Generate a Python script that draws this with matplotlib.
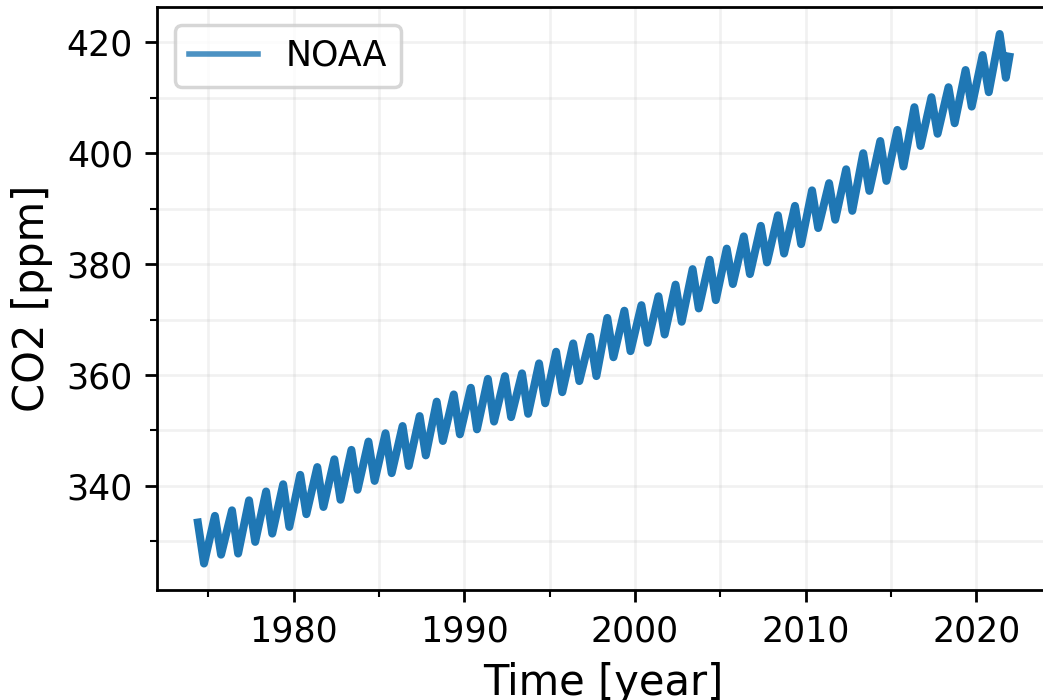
import numpy as np
import matplotlib.pyplot as plt
from matplotlib.ticker import MultipleLocator

# Mauna Loa CO2, one seasonal maximum (May) and minimum (late Sep) per year
years = np.arange(1974, 2022)
peak_ppm = [333.4, 334.6, 335.6, 337.4, 339.0, 340.3, 342.0, 343.4, 344.8, 346.5,
            348.0, 349.5, 350.8, 352.6, 355.2, 356.5, 357.7, 359.3, 359.8, 360.3,
            362.1, 364.2, 365.7, 366.9, 370.3, 371.6, 372.6, 374.2, 376.3, 379.1,
            380.8, 382.8, 385.0, 386.9, 388.8, 390.5, 393.3, 394.6, 397.1, 400.0,
            402.2, 404.2, 408.3, 410.1, 411.9, 415.0, 417.7, 421.5]
trough_ppm = [326.0, 327.6, 327.8, 329.9, 331.4, 332.6, 334.9, 336.2, 337.5, 339.3,
              340.9, 342.3, 343.6, 345.5, 348.1, 349.3, 350.2, 351.6, 352.4, 353.0,
              354.9, 356.9, 358.9, 359.8, 363.2, 364.3, 365.8, 367.3, 369.6, 372.0,
              373.5, 376.4, 378.2, 380.3, 381.9, 383.6, 386.5, 388.0, 389.6, 393.2,
              395.0, 397.6, 401.3, 403.5, 405.4, 408.4, 411.0, 413.6]
last_time = 2021.95
last_ppm = 417.4

# fraction of the year where the max / min fall
peak_frac = 0.38
trough_frac = 0.74

t = np.column_stack([years + peak_frac, years + trough_frac]).ravel()
co2 = np.column_stack([peak_ppm, trough_ppm]).ravel()
t = np.append(t, last_time)
co2 = np.append(co2, last_ppm)

fig = plt.figure(figsize=(1043 / 250, 700 / 250), dpi=250)
ax = fig.add_axes([0.1508, 0.1571, 0.8559, 0.8322])

ax.plot(t, co2, color='#1f77b4', linewidth=2.3, solid_joinstyle='round', label='NOAA')

ax.xaxis.set_major_locator(MultipleLocator(10))
ax.xaxis.set_minor_locator(MultipleLocator(5))
ax.yaxis.set_major_locator(MultipleLocator(20))
ax.yaxis.set_minor_locator(MultipleLocator(10))
ax.grid(True, which='both', alpha=0.17)

ax.set_xlabel('Time [year]', fontsize=12)
ax.set_ylabel('CO2 [ppm]', fontsize=12)
leg = ax.legend(loc='upper left')
leg.get_lines()[0].set_linewidth(1.6)
leg.get_lines()[0].set_alpha(0.8)

fig.savefig('out.png', dpi=250)
